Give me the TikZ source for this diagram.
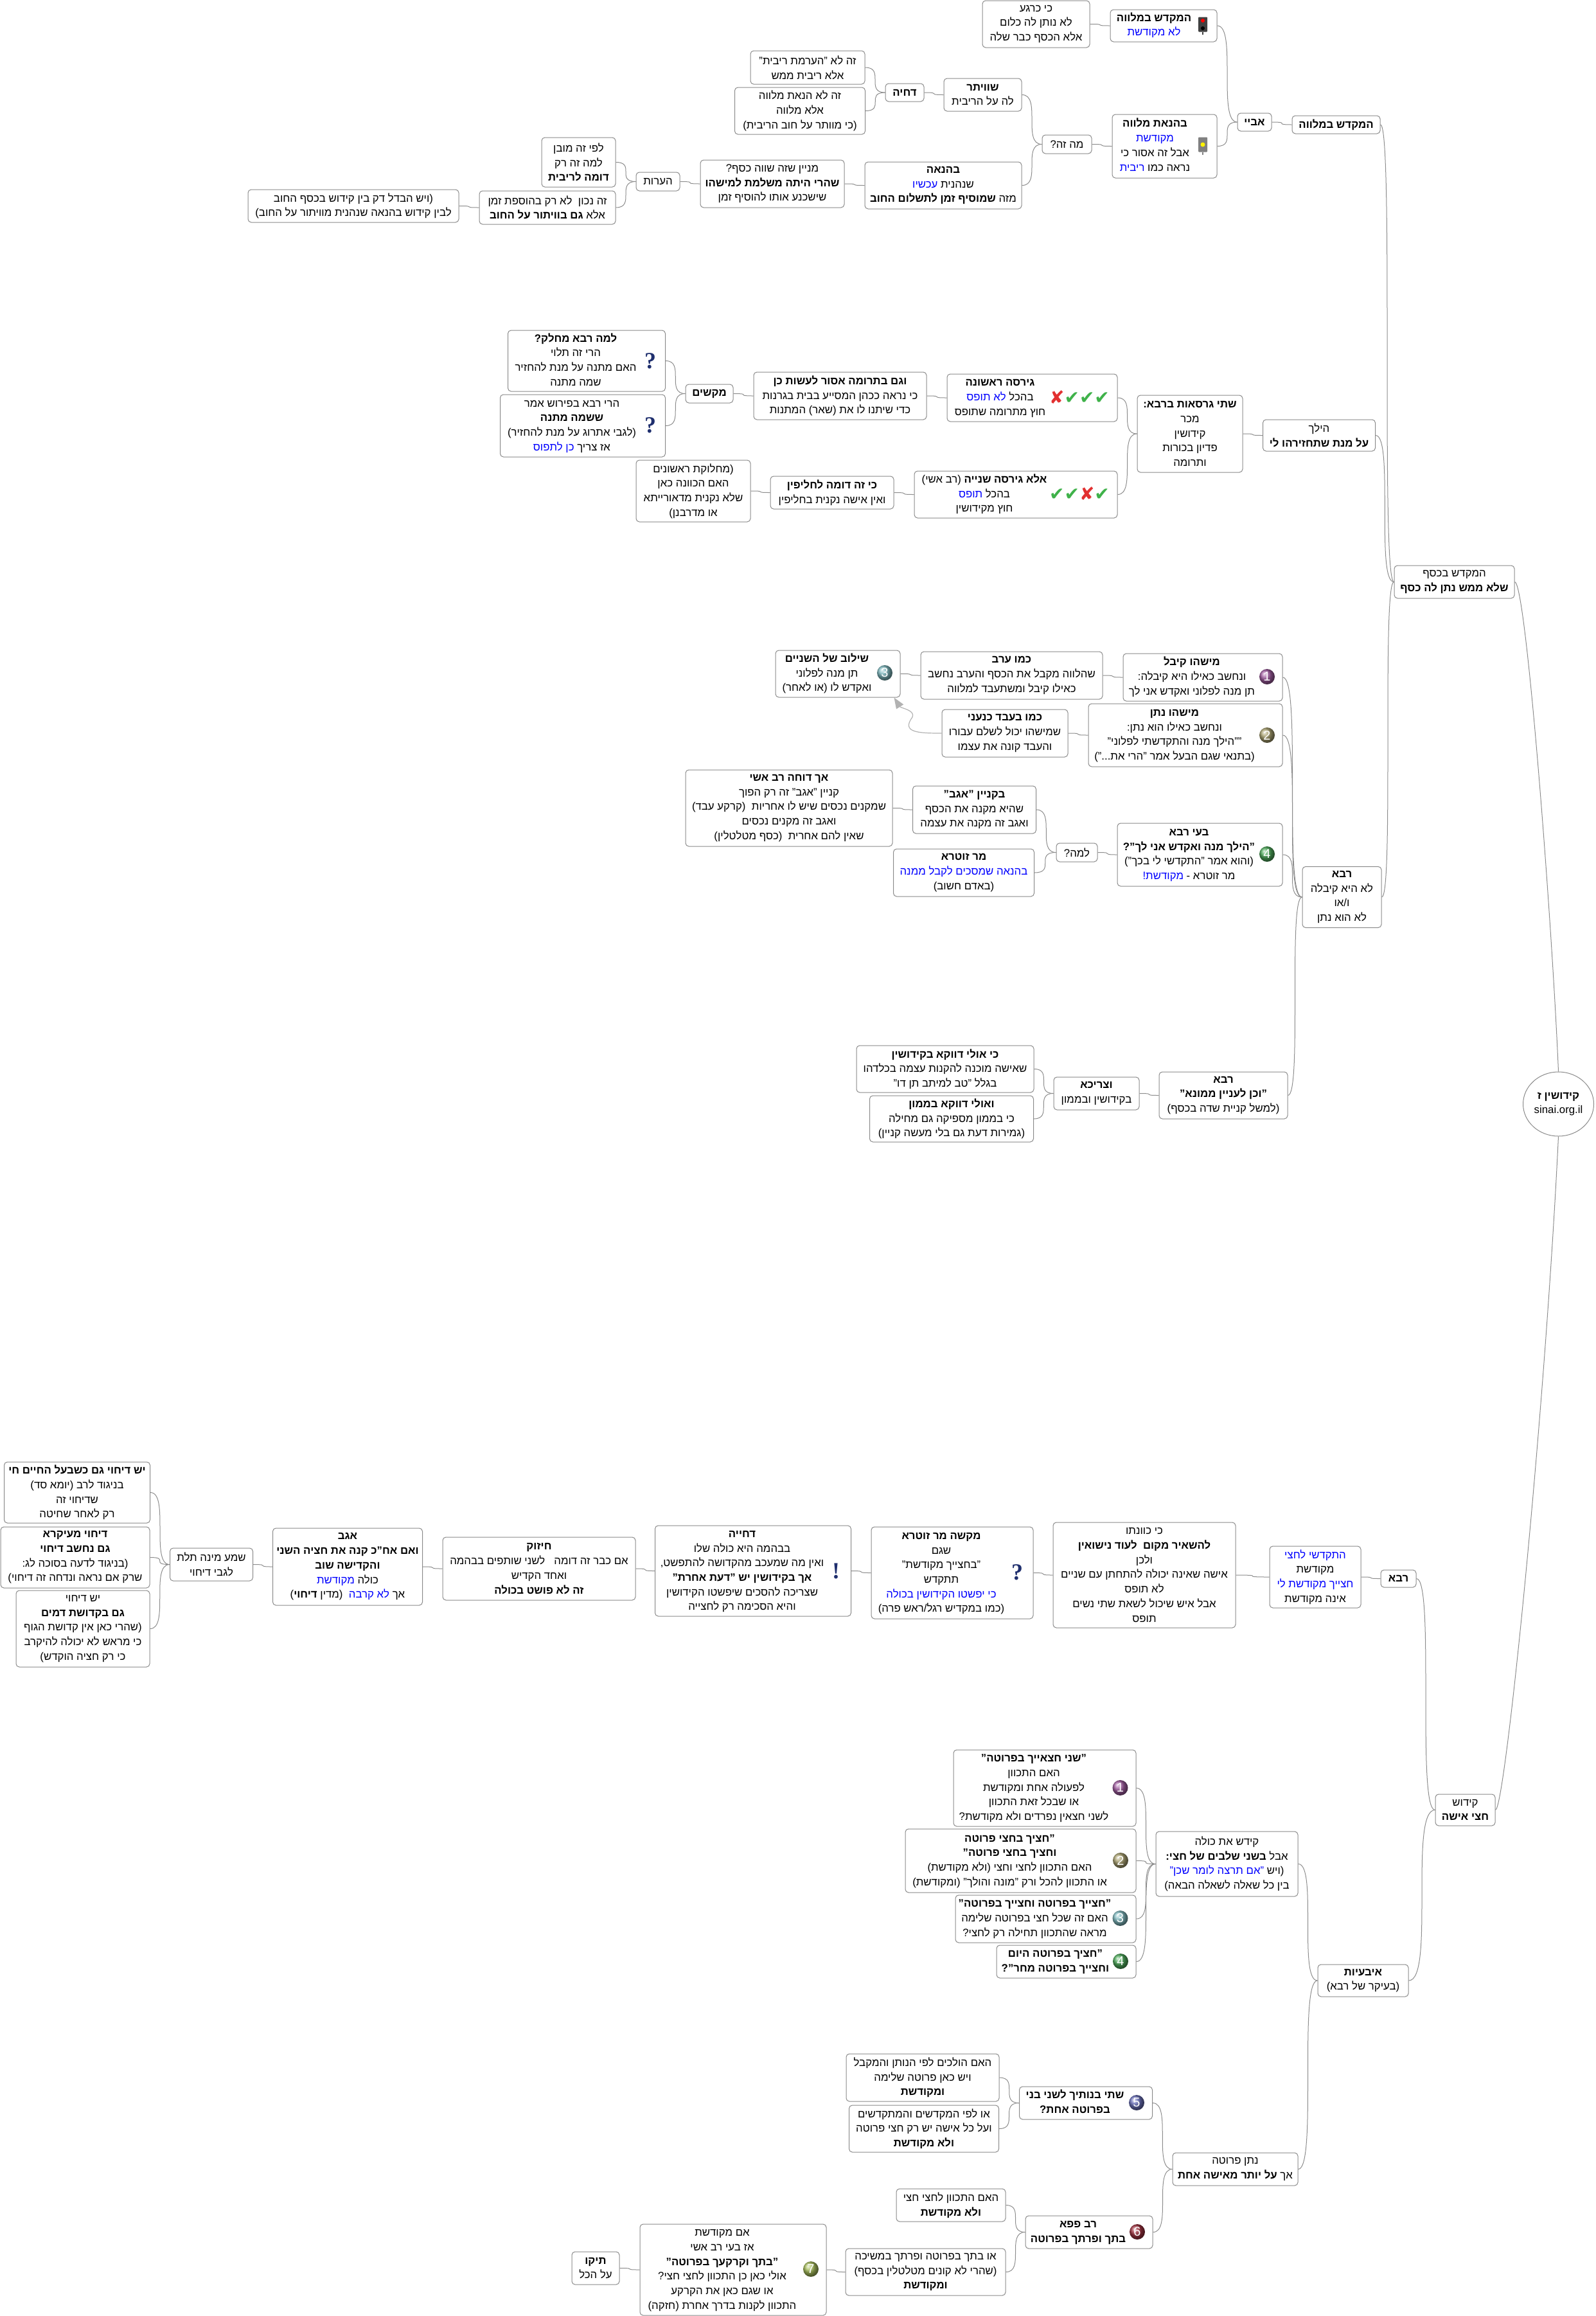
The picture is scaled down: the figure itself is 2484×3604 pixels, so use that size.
\documentclass[tikz,border=0pt]{standalone}
\usepackage{xcolor}
\usepackage{fontspec}
\usetikzlibrary{positioning,shapes.geometric,arrows.meta,calc}
\setmainfont[Script=Hebrew]{Liberation Sans}
\newfontfamily\symfont{DejaVu Sans}
\newfontfamily\markfont{Liberation Serif}
\TeXXeTstate=1
\newcommand{\rtl}[1]{\beginR #1\endR}
\newcommand{\blu}[1]{\special{color pop}#1\special{color push rgb 0 0 1}}
\newcommand{\lft}[2]{\begin{tabular}{@{}c@{}}#2\end{tabular}\hspace{#1pt}}
\definecolor{linkgray}{HTML}{8C8C8C}
\definecolor{boxgray}{HTML}{8A8A8A}
\definecolor{ball1}{HTML}{A05CA0}
\definecolor{ball2}{HTML}{ABA372}
\definecolor{ball3}{HTML}{80BBC1}
\definecolor{ball4}{HTML}{4FAC5C}
\definecolor{ball5}{HTML}{6C72BC}
\definecolor{ball6}{HTML}{A03240}
\definecolor{ball7}{HTML}{A7BE5C}
\definecolor{marknavy}{HTML}{1F2F6E}
\definecolor{tickgreen}{HTML}{3FB24A}
\definecolor{tickred}{HTML}{E23030}
\tikzset{
  box/.style={draw=boxgray,line width=1pt,rounded corners=5pt,fill=white,align=center,inner sep=0pt,
    font=\fontsize{16.8}{22.7}\selectfont},
  sz/.style 2 args={minimum width=#1pt,minimum height=#2pt},
  link/.style={draw=linkgray,line width=1pt},
  numball/.style={circle,ball color=#1,text=white,minimum size=24pt,inner sep=0pt,font=\fontsize{20}{20}\selectfont},
  qmark/.style={text=marknavy,inner sep=0pt,font=\markfont\bfseries\fontsize{36}{36}\selectfont},
  lamp/.style={fill=#1,minimum width=14pt,minimum height=23pt,inner sep=0pt,rounded corners=1pt},
  ticks/.style={inner sep=0pt,font=\symfont\fontsize{28}{28}\selectfont}
}
\begin{document}
\begin{tikzpicture}[x=1pt,y=-1pt]
\useasboundingbox (0,0) rectangle (2484,3604);
\draw node[ellipse,draw=boxgray,line width=1pt,fill=white,align=center,inner sep=0pt,minimum width=110pt,minimum height=100pt,font=\fontsize{16.8}{22.7}\selectfont] (l1) at (2425.5,1718) {\rtl{\textbf{קידושין ז}}\\sinai.org.il} ;
\draw node[box,sz={187}{51}] (l2) at (2263.5,905.5) {\rtl{המקדש בכסף}\\\rtl{\textbf{שלא ממש נתן לה כסף}}} ;
\draw node[box,sz={137}{28}] (l3) at (2079.5,194) {\rtl{\textbf{המקדש במלווה}}} ;
\draw node[box,sz={53}{28}] (l4) at (1952.5,190) {\rtl{\textbf{אביי}}} ;
\draw node[box,sz={166}{50}] (l5) at (1811,40) {\lft{30}{\rtl{\textbf{המקדש במלווה}}\\\rtl{\blu{לא מקודשת}}}} ;
\draw node[box,sz={167}{73}] (l6) at (1612.5,37.5) {\rtl{כי כרגע}\\\rtl{לא נותן לה כלום}\\\rtl{אלא הכסף כבר שלה}} ;
\draw node[box,sz={163}{99}] (l7) at (1812.5,227.5) {\lft{30}{\rtl{\textbf{בהנאת מלווה}}\\\rtl{\blu{מקודשת}}\\\rtl{אבל זה אסור כי}\\\rtl{נראה כמו \blu{ריבית}}}} ;
\draw node[box,sz={77}{29}] (l8) at (1660.5,224.5) {\rtl{מה זה?}} ;
\draw node[box,sz={121}{51}] (l9) at (1529.5,147.5) {\rtl{\textbf{שוויתר}}\\\rtl{לה על הריבית}} ;
\draw node[box,sz={60}{28}] (l10) at (1408,144) {\rtl{\textbf{דחיה}}} ;
\draw node[box,sz={178}{52}] (l11) at (1257,105) {\rtl{זה לא "הערמת ריבית"}\\\rtl{אלא ריבית ממש}} ;
\draw node[box,sz={203}{73}] (l12) at (1245,172.5) {\rtl{זה לא הנאת מלווה}\\\rtl{אלא מלווה}\\\rtl{(כי מוותר על חוב הריבית)}} ;
\draw node[box,sz={244}{73}] (l13) at (1468,288.5) {\rtl{\textbf{בהנאה}}\\\rtl{שנהנית \blu{עכשיו}}\\\rtl{מזה \textbf{שמוסיף זמן לתשלום החוב}}} ;
\draw node[box,sz={224}{74}] (l14) at (1202,286) {\rtl{מניין שזה שווה כסף?}\\\rtl{\textbf{שהרי היתה משלמת למישהו}}\\\rtl{שישכנע אותו להוסיף זמן}} ;
\draw node[box,sz={68}{29}] (l15) at (1024,282.5) {\rtl{הערות}} ;
\draw node[box,sz={115}{77}] (l16) at (900.5,252.5) {\rtl{לפי זה מובן}\\\rtl{למה זה רק}\\\rtl{\textbf{דומה לריבית}}} ;
\draw node[box,sz={212}{52}] (l17) at (852,323) {\rtl{זה נכון\ \ לא רק בהוספת זמן}\\\rtl{אלא \textbf{גם בוויתור על החוב}}} ;
\draw node[box,sz={328}{51}] (l18) at (550,320.5) {\rtl{(ויש הבדל דק בין קידוש בכסף החוב}\\\rtl{לבין קידוש בהנאה שנהנית מוויתור על החוב)}} ;
\draw node[box,sz={175}{49}] (l19) at (2053,677.5) {\rtl{הילך}\\\rtl{\textbf{על מנת שתחזירהו לי}}} ;
\draw node[box,sz={164}{120}] (l20) at (1852,675) {\rtl{\textbf{שתי גרסאות ברבא:}}\\\rtl{מכר}\\\rtl{קידושין}\\\rtl{פדיון בכורות}\\\rtl{ותרומה}} ;
\draw node[box,sz={265}{74}] (l21) at (1606.5,619) {\lft{100}{\rtl{\textbf{גירסה ראשונה}}\\\rtl{בהכל \blu{לא תופס}}\\\rtl{חוץ מתרומה שתופס}}} ;
\draw node[box,sz={269}{74}] (l22) at (1307.5,616) {\rtl{\textbf{וגם בתרומה אסור לעשות כן}}\\\rtl{כי נראה ככהן המסייע בבית בגרנות}\\\rtl{כדי שיתנו לו את (שאר) המתנות}} ;
\draw node[box,sz={74}{29}] (l23) at (1104,612.5) {\rtl{\textbf{מקשים}}} ;
\draw node[box,sz={245}{95}] (l24) at (913,561.5) {\lft{34}{\rtl{\textbf{למה רבא מחלק?}}\\\rtl{הרי זה תלוי}\\\rtl{האם מתנה על מנת להחזיר}\\\rtl{שמה מתנה}}} ;
\draw node[box,sz={257}{97}] (l25) at (907,662.5) {\lft{34}{\rtl{הרי רבא בפירוש אמר}\\\rtl{\textbf{ששמה מתנה}}\\\rtl{(לגבי אתרוג על מנת להחזיר)}\\\rtl{אז צריך \blu{כן לתפוס}}}} ;
\draw node[box,sz={316}{73}] (l26) at (1581,769.5) {\lft{98}{\rtl{\textbf{אלא גירסה שנייה} (רב אשי)}\\\rtl{בהכל \blu{תופס}}\\\rtl{חוץ מקידושין}}} ;
\draw node[box,sz={192}{51}] (l27) at (1295,766.5) {\rtl{\textbf{כי זה דומה לחליפין}}\\\rtl{ואין אישה נקנית בחליפין}} ;
\draw node[box,sz={178}{96}] (l28) at (1079,764) {\rtl{(מחלוקת ראשונים}\\\rtl{האם הכוונה כאן}\\\rtl{שלא נקנית מדאורייתא}\\\rtl{או מדרבנן)}} ;
\draw node[box,sz={123}{95}] (l29) at (2088.5,1396) {\rtl{\textbf{רבא}}\\\rtl{לא היא קיבלה}\\\rtl{ו/או}\\\rtl{לא הוא נתן}} ;
\draw node[box,sz={248}{74}] (l30) at (1872,1054) {\lft{34}{\rtl{\textbf{מישהו קיבל}}\\\rtl{ונחשב כאילו היא קיבלה:}\\\rtl{תן מנה לפלוני ואקדש אני לך}}} ;
\draw node[box,sz={283}{74}] (l31) at (1574.5,1051) {\rtl{\textbf{כמו ערב}}\\\rtl{שהלווה מקבל את הכסף והערב נחשב}\\\rtl{כאילו קיבל ומשתעבד למלווה}} ;
\draw node[box,sz={194}{73}] (l32) at (1304,1048.5) {\lft{34}{\rtl{\textbf{שילוב של השניים}}\\\rtl{תן מנה לפלוני}\\\rtl{ואקדש לו (או לאחר)}}} ;
\draw node[box,sz={302}{98}] (l33) at (1845,1144) {\lft{34}{\rtl{\textbf{מישהו נתן}}\\\rtl{ונחשב כאילו הוא נתן:}\\\rtl{""הילך מנה והתקדשתי לפלוני"}\\\rtl{(בתנאי שגם הבעל אמר "הרי את...")}}} ;
\draw node[box,sz={196}{74}] (l34) at (1564,1141) {\rtl{\textbf{כמו בעבד כנעני}}\\\rtl{שמישהו יכול לשלם עבורו}\\\rtl{והעבד קונה את עצמו}} ;
\draw node[box,sz={257}{98}] (l35) at (1867.5,1330) {\lft{34}{\rtl{\textbf{בעי רבא}}\\\rtl{\textbf{"הילך מנה ואקדש אני לך"?}}\\\rtl{(והוא אמר "התקדשי לי בכך")}\\\rtl{מר זוטרא - \blu{מקודשת!}}}} ;
\draw node[box,sz={64}{29}] (l36) at (1676,1326.5) {\rtl{למה?}} ;
\draw node[box,sz={192}{74}] (l37) at (1516.5,1260) {\rtl{\textbf{בקניין "אגב"}}\\\rtl{שהיא מקנה את הכסף}\\\rtl{ואגב זה מקנה את עצמה}} ;
\draw node[box,sz={322}{119}] (l38) at (1228,1257.5) {\rtl{\textbf{אך דוחה רב אשי}}\\\rtl{קניין "אגב" זה רק הפוך}\\\rtl{שמקנים נכסים שיש לו אחריות\ \ (קרקע עבד)}\\\rtl{ואגב זה מקנים נכסים}\\\rtl{שאין להם אחרית\ \ (כסף מטלטלין)}} ;
\draw node[box,sz={219}{74}] (l39) at (1500,1358) {\rtl{\textbf{מר זוטרא}}\\\rtl{\blu{בהנאה שמסכים לקבל ממנה}}\\\rtl{(באדם חשוב)}} ;
\draw node[box,sz={200}{73}] (l40) at (1904,1704.5) {\rtl{\textbf{רבא}}\\\rtl{\textbf{"וכן לעניין ממונא"}}\\\rtl{(למשל קניית שדה בכסף)}} ;
\draw node[box,sz={133}{51}] (l41) at (1706.5,1701.5) {\rtl{\textbf{וצריכא}}\\\rtl{בקידושין ובממון}} ;
\draw node[box,sz={276}{73}] (l42) at (1471,1663.5) {\rtl{\textbf{כי אולי דווקא בקידושין}}\\\rtl{שאישה מוכנה להקנות עצמה בכלדהו}\\\rtl{בגלל "טב למיתב תן דו"}} ;
\draw node[box,sz={255}{72}] (l43) at (1481,1741) {\rtl{\textbf{ואולי דווקא בממון}}\\\rtl{כי בממון מספיקה גם מחילה}\\\rtl{(גמירות דעת גם בלי מעשה קניין)}} ;
\draw node[box,sz={93}{49}] (l44) at (2280.5,2816.5) {\rtl{קידוש}\\\rtl{\textbf{חצי אישה}}} ;
\draw node[box,sz={55}{27}] (l45) at (2176.5,2456.5) {\rtl{\textbf{רבא}}} ;
\draw node[box,sz={142}{96}] (l46) at (2047,2454) {\rtl{\blu{התקדשי לחצי}}\\\rtl{מקודשת}\\\rtl{\blu{חצייך מקודשת לי}}\\\rtl{אינה מקודשת}} ;
\draw node[box,sz={284}{164}] (l47) at (1781,2451) {\rtl{כי כוונתו}\\\rtl{\textbf{להשאיר מקום\ \ לעוד נישואין}}\\\rtl{ולכן}\\\rtl{אישה שאינה יכולה להתחתן עם שניים}\\\rtl{לא תופס}\\\rtl{אבל איש שיכול לשאת שתי נשים}\\\rtl{תופס}} ;
\draw node[box,sz={252}{143}] (l48) at (1482,2447.5) {\lft{34}{\rtl{\textbf{מקשה מר זוטרא}}\\\rtl{שגם}\\\rtl{"בחצייך מקודשת"}\\\rtl{תתקדש}\\\rtl{\blu{כי יפשטו הקידושין בכולה}}\\\rtl{(כמו במקדיש רגל/ראש פרה)}}} ;
\draw node[box,sz={305}{141}] (l49) at (1172,2444.5) {\lft{34}{\rtl{\textbf{דחייה}}\\\rtl{בבהמה היא כולה שלו}\\\rtl{ואין מה שמעכב מהקדושה להתפשט,}\\\rtl{\textbf{אך בקידושין יש "דעת אחרת"}}\\\rtl{שצריכה להסכים שיפשטו הקידושין}\\\rtl{והיא הסכימה רק לחצייה}}} ;
\draw node[box,sz={300}{98}] (l50) at (839,2441) {\rtl{\textbf{חיזוק}}\\\rtl{אם כבר זה דומה\ \ \ לשני שותפים בבהמה}\\\rtl{ואחד הקדיש}\\\rtl{\textbf{זה לא פושט בכולה}}} ;
\draw node[box,sz={233}{120}] (l51) at (541,2438) {\rtl{\textbf{אגב}}\\\rtl{\textbf{ואם אח"כ קנה את חציה השני}}\\\rtl{\textbf{והקדישה שוב}}\\\rtl{כולה \blu{מקודשת}}\\\rtl{אך \blu{לא קרבה}\ \ (מדין \textbf{דיחוי})}} ;
\draw node[box,sz={129}{51}] (l52) at (329,2434.5) {\rtl{שמע מינה תלת}\\\rtl{לגבי דיחוי}} ;
\draw node[box,sz={227}{95}] (l53) at (120,2322.5) {\rtl{\textbf{יש דיחוי גם כשבעל החיים חי}}\\\rtl{בניגוד לרב (יומא סד)}\\\rtl{שדיחוי זה}\\\rtl{רק לאחר שחיטה}} ;
\draw node[box,sz={232}{95}] (l54) at (117,2423.5) {\rtl{\textbf{דיחוי מעיקרא}}\\\rtl{\textbf{גם נחשב דיחוי}}\\\rtl{(בניגוד לדעה בסוכה לג:}\\\rtl{שרק אם נראה ונדחה זה דיחוי)}} ;
\draw node[box,sz={208}{119}] (l55) at (129,2534.5) {\rtl{יש דיחוי}\\\rtl{\textbf{גם בקדושת דמים}}\\\rtl{(שהרי כאן אין קדושת הגוף}\\\rtl{כי מראש לא יכולה להיקרב}\\\rtl{כי רק חציה הוקדש)}} ;
\draw node[box,sz={141}{50}] (l56) at (2121.5,3082) {\rtl{\textbf{איבעיות}}\\\rtl{(בעיקר של רבא)}} ;
\draw node[box,sz={221}{101}] (l57) at (1909.5,2900.5) {\rtl{קידש את כולה}\\\rtl{אבל \textbf{בשני שלבים של חצי:}}\\\rtl{(ויש \blu{"אם תרצה לומר שכן"}}\\\rtl{בין כל שאלה לשאלה הבאה)}} ;
\draw node[box,sz={284}{119}] (l58) at (1626,2782.5) {\lft{34}{\rtl{\textbf{"שני חצאייך בפרוטה"}}\\\rtl{האם התכוון}\\\rtl{לפעולה אחת ומקודשת}\\\rtl{או שבכל זאת התכוון}\\\rtl{לשני חצאין נפרדים ולא מקודשת?}}} ;
\draw node[box,sz={359}{99}] (l59) at (1588.5,2895.5) {\lft{34}{\rtl{\textbf{"חציך בחצי פרוטה}}\\\rtl{\textbf{וחציך בחצי פרוטה"}}\\\rtl{האם התכוון לחצי וחצי (ולא מקודשת)}\\\rtl{או התכוון להכל ורק "מונה והולך" (ומקודשת)}}} ;
\draw node[box,sz={281}{74}] (l60) at (1627.5,2986) {\lft{34}{\rtl{\textbf{"חצייך בפרוטה וחצייך בפרוטה"}}\\\rtl{האם זה שכל חצי בפרוטה שלימה}\\\rtl{מראה שהתכוון תחילה רק לחצי?}}} ;
\draw node[box,sz={217}{51}] (l61) at (1659.5,3052.5) {\lft{34}{\rtl{\textbf{"חציך בפרוטה היום}}\\\rtl{\textbf{וחצייך בפרוטה מחר"?}}}} ;
\draw node[box,sz={195}{51}] (l62) at (1922.5,3375.5) {\rtl{נתן פרוטה}\\\rtl{אך \textbf{על יותר מאישה אחת}}} ;
\draw node[box,sz={207}{51}] (l63) at (1690,3272.5) {\lft{34}{\rtl{\textbf{שתי בנותיך לשני בני}}\\\rtl{\textbf{בפרוטה אחת?}}}} ;
\draw node[box,sz={238}{74}] (l64) at (1436,3233) {\rtl{האם הולכים לפי הנותן והמקבל}\\\rtl{ויש כאן פרוטה שלימה}\\\rtl{\textbf{ומקודשת}}} ;
\draw node[box,sz={233}{73}] (l65) at (1438,3312.5) {\rtl{או לפי המקדשים והמתקדשים}\\\rtl{ועל כל אישה יש רק חצי פרוטה}\\\rtl{\textbf{ולא מקודשת}}} ;
\draw node[box,sz={198}{51}] (l66) at (1695,3473.5) {\lft{34}{\rtl{\textbf{רב פפא}}\\\rtl{\textbf{בתך ופרתך בפרוטה}}}} ;
\draw node[box,sz={170}{51}] (l67) at (1480,3431.5) {\rtl{האם התכוון לחצי חצי}\\\rtl{\textbf{ולא מקודשת}}} ;
\draw node[box,sz={249}{73}] (l68) at (1440.5,3535.5) {\rtl{או בתך בפרוטה ופרתך במשיכה}\\\rtl{(שהרי לא קונים מטלטלין בכסף)}\\\rtl{\textbf{ומקודשת}}} ;
\draw node[box,sz={290}{142}] (l69) at (1141,3532) {\lft{34}{\rtl{אם מקודשת}\\\rtl{אז בעי רב אשי}\\\rtl{\textbf{"בתך וקרקעך בפרוטה"}}\\\rtl{אולי כאן כן התכוון לחצי חצי?}\\\rtl{או שגם כאן את הקרקע}\\\rtl{התכוון לקנות בדרך אחרת (חזקה)}}} ;
\draw node[box,sz={74}{51}] (l70) at (927,3529.5) {\rtl{\textbf{תיקו}}\\\rtl{על הכל}} ;
\foreach \kid/\prnt in {l3/l2,l19/l2,l29/l2,l4/l3,l5/l4,l7/l4,l6/l5,l8/l7,l9/l8,l13/l8,l10/l9,l11/l10,l12/l10,l14/l13,l15/l14,l16/l15,l17/l15,l18/l17,
    l20/l19,l21/l20,l26/l20,l22/l21,l23/l22,l24/l23,l25/l23,l27/l26,l28/l27,l30/l29,l33/l29,l35/l29,l40/l29,l31/l30,l32/l31,l34/l33,l36/l35,
    l37/l36,l39/l36,l38/l37,l41/l40,l42/l41,l43/l41,l45/l44,l56/l44,l46/l45,l47/l46,l48/l47,l49/l48,l50/l49,l51/l50,l52/l51,l53/l52,l54/l52,l55/l52,
    l57/l56,l62/l56,l58/l57,l59/l57,l60/l57,l61/l57,l63/l62,l66/l62,l64/l63,l65/l63,l67/l66,l68/l66,l69/l68,l70/l69}
  \draw[link] let \p1=(\kid.east),\p2=(\prnt.west) in (\p1) .. controls (\x2,\y1) and (\x1,\y2) .. (\p2);
\draw[link] (l2.east) .. controls +(18,0) and ($(l1.north)+(-9,-218)$) .. (l1.north);
\draw[link] (l44.east) .. controls +(15,0) and ($(l1.south)+(-21,432)$) .. (l1.south);
\draw[draw=gray!60,line width=1.2pt,-{Triangle[length=17pt,width=13pt,fill=gray!60]}] (l34.west) .. controls (1430,1141) and (1402,1140) .. (1420,1116) .. controls (1425,1105) and (1402,1102) .. ([xshift=-10pt]l32.south east);
\draw node[numball=ball1] (b1) at (1972,1053) {1} ;
\draw node[numball=ball2] (b2) at (1972,1144) {2} ;
\draw node[numball=ball3] (b3) at (1377,1047) {3} ;
\draw node[numball=ball4] (b4) at (1972,1329) {4} ;
\draw node[numball=ball1] (b5) at (1743.5,2782) {1} ;
\draw node[numball=ball2] (b6) at (1744,2895) {2} ;
\draw node[numball=ball3] (b7) at (1743.5,2985) {3} ;
\draw node[numball=ball4] (b8) at (1744,3052) {4} ;
\draw node[numball=ball5] (b9) at (1769,3272) {5} ;
\draw node[numball=ball6] (b10) at (1770,3473) {6} ;
\draw node[numball=ball7] (b11) at (1262,3531) {7} ;
\draw node[qmark] (q1) at (1012,562) {?} ;
\draw node[qmark] (q2) at (1012,662) {?} ;
\draw node[qmark] (q3) at (1583,2447) {?} ;
\draw node[qmark] (q4) at (1301,2445) {!} ;
\draw node[ticks] (c1) at (1680,618) {\textcolor{tickred}{✘}\textcolor{tickgreen}{✔✔✔}} ;
\draw node[ticks] (c2) at (1680,768) {\textcolor{tickgreen}{✔✔}\textcolor{tickred}{✘}\textcolor{tickgreen}{✔}} ;
\draw node[lamp=black!75] (s1) at (1872,38) {} ;
\draw node[lamp=black!50] (s2) at (1872,225) {} ;
\draw[black!75,line width=1.5pt] (s1.south) -- +(0,4);
\draw[black!50,line width=1.5pt] (s2.south) -- +(0,4);
\fill[red] ($(s1.center)+(0,-6)$) circle (3pt);
\fill[black] ($(s1.center)+(0,6)$) circle (3pt);
\fill[yellow] (s2.center) circle (3.5pt);
\end{tikzpicture}
\end{document}
